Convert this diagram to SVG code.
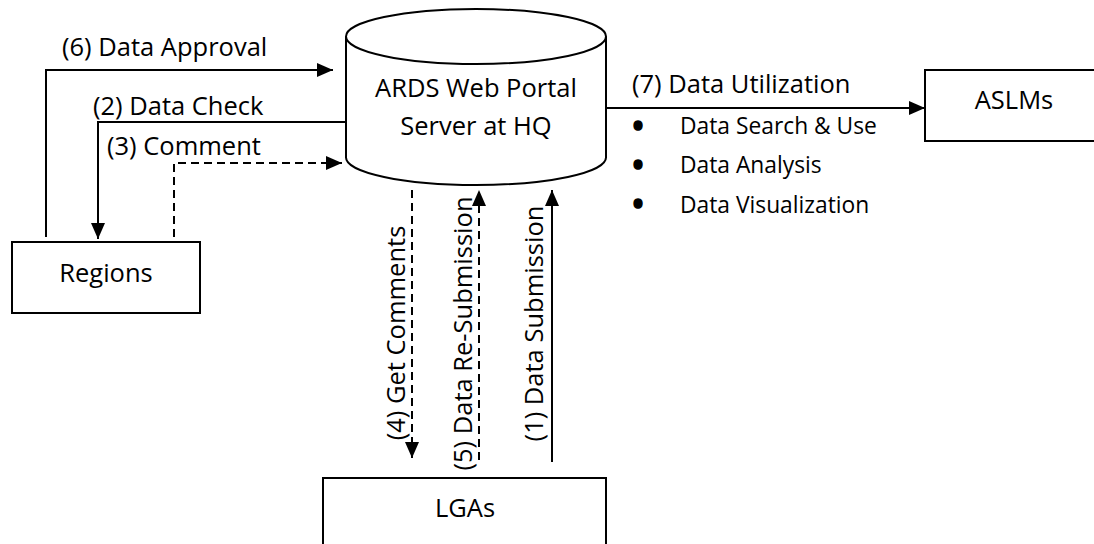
<svg xmlns="http://www.w3.org/2000/svg" width="1094" height="544" viewBox="0 0 1094 544">
<style>
.shape{fill:#fff;stroke:#000;stroke-width:2}
.lbl{font-family:"Open Sans","Noto Sans",sans-serif;font-size:25.5px;fill:#000}
.small{font-family:"Open Sans","Noto Sans",sans-serif;font-size:22.8px;fill:#000}
.bullet{font-family:"Open Sans","Noto Sans",sans-serif;font-size:28px;font-weight:bold;fill:#000;stroke:#000;stroke-width:1.5}
.line{fill:none;stroke:#000;stroke-width:2}
.dash{stroke-dasharray:8 5}
</style>
<defs>
<marker id="arrow" markerUnits="userSpaceOnUse" markerWidth="17" markerHeight="15" refX="16" refY="7" orient="auto">
<path d="M0,0 L16,7 L0,14 Z" fill="#000"/>
</marker>
</defs>
<rect width="1094" height="544" fill="#fff"/>
<g id="server">
<path class="shape" d="M346,36.5 V157.5 A130,27.5 0 0 0 606,157.5 V36.5"/>
<ellipse class="shape" cx="476" cy="36.5" rx="130" ry="27.5"/>
<text class="lbl" x="476" y="97" text-anchor="middle">ARDS Web Portal</text>
<text class="lbl" x="476" y="135" text-anchor="middle">Server at HQ</text>
</g>
<g id="regions">
<rect class="shape" x="12" y="242" width="188" height="71"/>
<text class="lbl" x="106" y="282" text-anchor="middle">Regions</text>
</g>
<g id="aslms">
<rect class="shape" x="925" y="70" width="180" height="71"/>
<text class="lbl" x="1014" y="109" text-anchor="middle">ASLMs</text>
</g>
<g id="lgas">
<rect class="shape" x="323" y="478" width="283" height="80"/>
<text class="lbl" x="465" y="517" text-anchor="middle">LGAs</text>
</g>
<g id="connectors">
<path class="line" d="M46,237 V70 H333" marker-end="url(#arrow)"/>
<path class="line" d="M345,122 H98 V239" marker-end="url(#arrow)"/>
<path class="line dash" d="M174,237 V163 H342" marker-end="url(#arrow)"/>
<path class="line dash" d="M412,190 V458" marker-end="url(#arrow)"/>
<path class="line dash" d="M479,460 V190" marker-end="url(#arrow)"/>
<path class="line" d="M552,462 V190" marker-end="url(#arrow)"/>
<path class="line" d="M607,108 H925" marker-end="url(#arrow)"/>
</g>
<g id="labels">
<text class="lbl" x="62" y="56">(6) Data Approval</text>
<text class="lbl" x="93" y="115">(2) Data Check</text>
<text class="lbl" x="107" y="155">(3) Comment</text>
<text class="lbl" x="632" y="93">(7) Data Utilization</text>
<text class="lbl" transform="translate(405,333) rotate(-90)" text-anchor="middle">(4) Get Comments</text>
<text class="lbl" transform="translate(472,333.5) rotate(-90)" text-anchor="middle">(5) Data Re-Submission</text>
<text class="lbl" transform="translate(543,323.5) rotate(-90)" text-anchor="middle">(1) Data Submission</text>
<text class="bullet" x="638" y="136" text-anchor="middle">•</text>
<text class="small" x="680" y="134">Data Search &amp; Use</text>
<text class="bullet" x="638" y="174.5" text-anchor="middle">•</text>
<text class="small" x="680" y="173">Data Analysis</text>
<text class="bullet" x="638" y="214" text-anchor="middle">•</text>
<text class="small" x="680" y="213">Data Visualization</text>
</g>
</svg>
